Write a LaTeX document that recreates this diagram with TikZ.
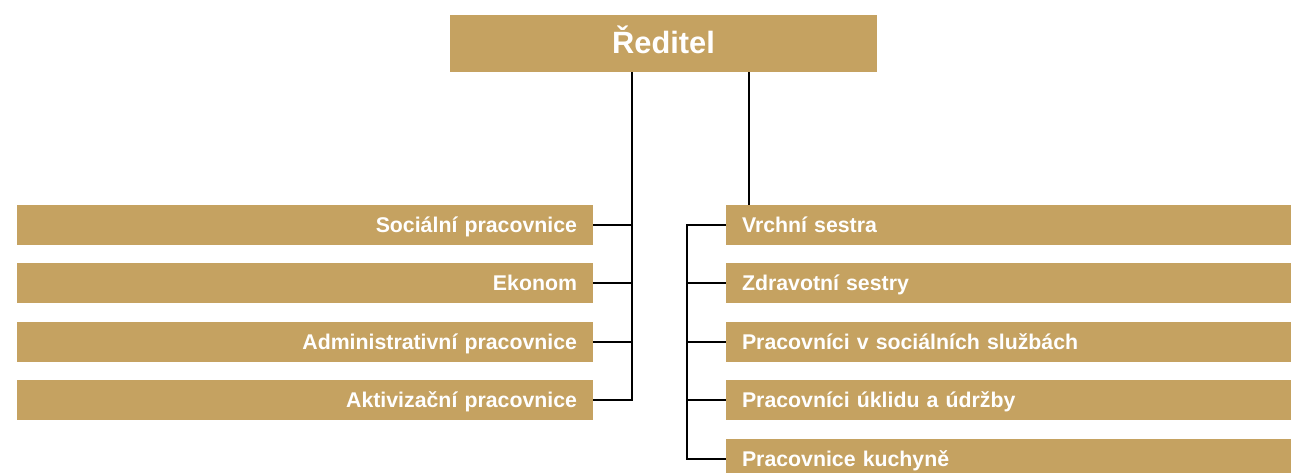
\documentclass[tikz,border=0pt]{standalone}
\usepackage{fontspec}
\setmainfont{Liberation Sans}
\definecolor{gold}{HTML}{C5A261}
\begin{document}
\begin{tikzpicture}[x=1pt,y=-1pt,
  box/.style={fill=gold,draw=none,inner sep=0pt,minimum height=40pt,text=white,text height=16pt,text depth=2pt,font=\bfseries\fontsize{21.3}{24}\selectfont},
  lbox/.style={box,minimum width=576pt,text width=544pt,align=right},
  rbox/.style={box,minimum width=565pt,text width=533pt,align=left},
  conn/.style={draw=black,line width=1.6pt}]
\useasboundingbox (0,0) rectangle (1291,472);
\begin{scope}
\clip (0,0) rectangle (1291,472);
\node[box,minimum width=427pt,minimum height=57pt,text height=21pt,text depth=2pt,font=\bfseries\fontsize{30.8}{34}\selectfont] (top) at (663.5,43.5) {Ředitel};
\node[lbox] (l1) at (305,225) {Sociální pracovnice};
\node[lbox] (l2) at (305,283) {Ekonom};
\node[lbox] (l3) at (305,342) {Administrativní pracovnice};
\node[lbox] (l4) at (305,400) {Aktivizační pracovnice};
\node[rbox] (r1) at (1008.5,225) {Vrchní sestra};
\node[rbox] (r2) at (1008.5,283) {Zdravotní sestry};
\node[rbox] (r3) at (1008.5,342) {Pracovníci v sociálních službách};
\node[rbox] (r4) at (1008.5,400) {Pracovníci úklidu a údržby};
\node[rbox] (r5) at (1008.5,459) {Pracovnice kuchyně};
\coordinate (lt) at (632,72);
\coordinate (rt) at (749,72);
\draw[conn] (lt) |- (l4.east);
\foreach \n in {l1,l2,l3} \draw[conn] (\n.east) -- (632,0 |- \n.east);
\draw[conn] (rt) -- (rt |- r1.north);
\draw[conn] (r1.west) -| (687,459) -- (r5.west);
\foreach \n in {r2,r3,r4} \draw[conn] (\n.west) -- (687,0 |- \n.west);
\end{scope}
\end{tikzpicture}
\end{document}
